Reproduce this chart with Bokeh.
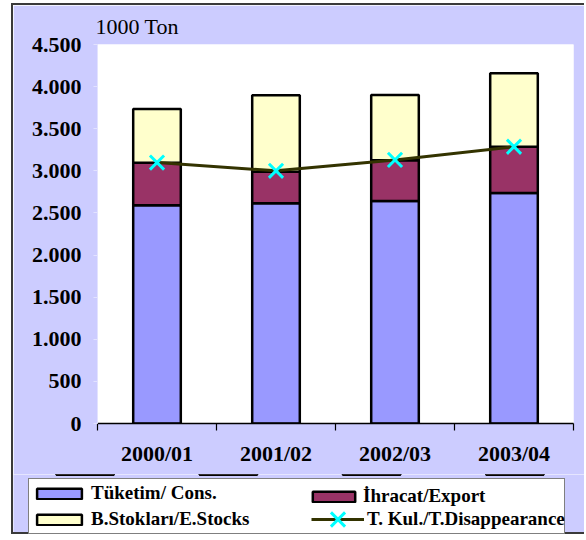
from bokeh.plotting import figure
from bokeh.models import (ColumnDataSource, Range1d, FixedTicker, Legend, LegendItem)
from bokeh.embed import file_html
from bokeh.resources import INLINE

# ---- data ----
categories = ["2000/01", "2001/02", "2002/03", "2003/04"]
consumption = [2592, 2615, 2643, 2738]
exports = [503, 373, 484, 548]
end_stocks = [640, 910, 774, 874]
disappearance = [3098, 3000, 3130, 3286]
series_labels = ["Tüketim/ Cons.", "İhracat/Export", "B.Stokları/E.Stocks", "T. Kul./T.Disappearance"]
y_ticks = [0, 500, 1000, 1500, 2000, 2500, 3000, 3500, 4000, 4500]
y_tick_labels = ["0", "500", "1.000", "1.500", "2.000", "2.500", "3.000", "3.500", "4.000", "4.500"]
unit_label = "1000 Ton"

# ---- styles ----
LAVENDER = "#CCCCFF"
BORDER = "2px solid #3a3a3a"
bar_colors = ["#9999FF", "#993366", "#FFFFCC"]
LINE_COLOR = "#333300"
MARK_COLOR = "#00FFFF"
SERIF = "Liberation Serif"

# category slots on a linear scale: slot i spans [i, i+1], bar centred in it
n = len(categories)
centers = [i + 0.5 for i in range(n)]
edges = list(range(n + 1))

src = ColumnDataSource(dict(x=centers, cons=consumption, exp=exports,
                            stk=end_stocks, dis=disappearance))


def draw_series(fig):
    bars = fig.vbar_stack(["cons", "exp", "stk"], x="x", width=0.4, source=src,
                          fill_color=bar_colors, line_color="black", line_width=2.5)
    ln = fig.line(x="x", y="dis", source=src, line_color=LINE_COLOR, line_width=3)
    mk = fig.scatter(x="x", y="dis", source=src, marker="x", size=20,
                     line_color=MARK_COLOR, line_width=3)
    return bars, ln, mk


p = figure(width=573, height=471, x_range=Range1d(0, n), y_range=Range1d(0, 4500),
           output_backend="svg", toolbar_location=None,
           min_border_left=84, min_border_right=13, min_border_top=38, min_border_bottom=53,
           border_fill_color=LAVENDER, background_fill_color="white", outline_line_color=None,
           title=unit_label)
p.styles = {"border-left": BORDER, "border-top": BORDER, "margin-left": "11px", "margin-top": "3px"}

p.title.align = "left"
p.title.offset = -2
p.title.text_font = SERIF
p.title.text_font_size = "22px"
p.title.text_font_style = "normal"
p.title.text_color = "black"
p.title.standoff = 12

p.xgrid.grid_line_color = None
p.ygrid.grid_line_color = None

draw_series(p)

# y axis
p.yaxis.ticker = FixedTicker(ticks=y_ticks)
p.yaxis.major_label_overrides = dict(zip(y_ticks, y_tick_labels))
p.yaxis.axis_line_color = "#E2E2FF"
p.yaxis.major_tick_line_color = "#E2E2FF"
p.yaxis.major_tick_out = 4
p.yaxis.major_tick_in = 0
p.yaxis.minor_tick_line_color = None
p.yaxis.major_label_standoff = 12
p.yaxis.major_label_text_font = SERIF
p.yaxis.major_label_text_font_size = "22px"
p.yaxis.major_label_text_font_style = "bold"
p.yaxis.major_label_text_color = "black"

# x axis: labels at slot centres, tick marks at slot edges
p.xaxis.ticker = FixedTicker(ticks=centers, minor_ticks=edges)
p.xaxis.major_label_overrides = dict(zip(centers, categories))
p.xaxis.axis_line_color = "black"
p.xaxis.axis_line_width = 1.5
p.xaxis.major_tick_line_color = None
p.xaxis.major_tick_out = 0
p.xaxis.major_tick_in = 0
p.xaxis.minor_tick_line_color = "black"
p.xaxis.minor_tick_line_width = 1.2
p.xaxis.minor_tick_out = 7
p.xaxis.minor_tick_in = 0
p.xaxis.major_label_standoff = 10
p.xaxis.major_label_text_font = SERIF
p.xaxis.major_label_text_font_size = "22px"
p.xaxis.major_label_text_font_style = "bold"
p.xaxis.major_label_text_color = "black"

# ---- legend strip: a second canvas whose view window lies outside the data,
# so its series only supply the legend swatches ----
q = figure(width=573, height=60, x_range=Range1d(0, n), y_range=Range1d(-2, -1),
           output_backend="svg", toolbar_location=None,
           x_axis_location=None, y_axis_location=None,
           min_border=0, min_border_left=0, min_border_right=0, min_border_top=0,
           min_border_bottom=0,
           border_fill_color=LAVENDER, background_fill_color=LAVENDER, outline_line_color=None)
q.styles = {"border-left": BORDER, "border-bottom": BORDER, "margin-left": "11px"}
q.xgrid.grid_line_color = None
q.ygrid.grid_line_color = None
k_bars, k_line, k_mark = draw_series(q)

text_style = dict(label_text_font=SERIF, label_text_font_size="19px",
                  label_text_font_style="bold", label_text_color="black",
                  margin=0, border_line_width=1.5, orientation="vertical")
# boxed legend: first column (its box spans the full strip width)
leg1 = Legend(items=[LegendItem(label=series_labels[0], renderers=[k_bars[0]]),
                     LegendItem(label=series_labels[2], renderers=[k_bars[2]])],
              location=(15, 0), glyph_width=56, glyph_height=13, label_height=24,
              label_standoff=4, label_width=471, spacing=2, padding=2,
              border_line_color="black", background_fill_color="white",
              background_fill_alpha=1.0, **text_style)
# second column, first row
leg2 = Legend(items=[LegendItem(label=series_labels[1], renderers=[k_bars[1]])],
              location=(294, 26), glyph_width=53, glyph_height=13, label_height=24,
              label_standoff=3, padding=4,
              border_line_color=None, background_fill_alpha=0.0, **text_style)
# second column, second row (tall slot so the marker keeps its size)
leg3 = Legend(items=[LegendItem(label=series_labels[3], renderers=[k_line, k_mark])],
              location=(298, -10), glyph_width=53, glyph_height=50, label_height=20,
              label_standoff=3, padding=0,
              border_line_color=None, background_fill_alpha=0.0, **text_style)
q.add_layout(leg1, "center")
q.add_layout(leg2, "center")
q.add_layout(leg3, "center")

open("out.html", "w").write(file_html([p, q], INLINE))
